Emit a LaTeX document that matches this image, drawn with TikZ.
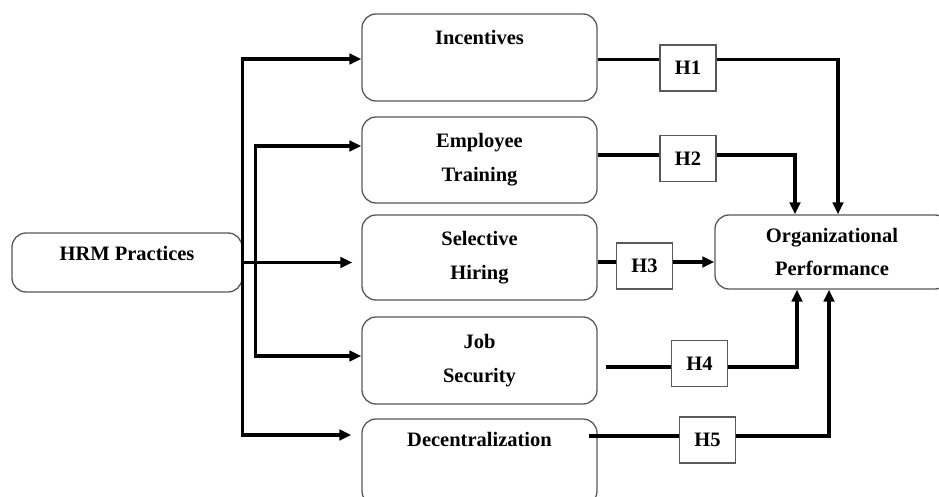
\documentclass[tikz,border=0pt]{standalone}
\usepackage{fontspec}
\setmainfont{Liberation Serif}
\usetikzlibrary{arrows.meta}
\begin{document}
\begin{tikzpicture}[x=1pt,y=-1pt,
  box/.style={draw=black!65,line width=1.3pt,rounded corners=14pt,fill=white,
    font=\bfseries\fontsize{20.5}{34}\selectfont,align=center,inner sep=0pt},
  hbox/.style={draw=black!65,line width=1.3pt,fill=white,
    font=\bfseries\fontsize{20.5}{24}\selectfont,minimum width=56pt,minimum height=46pt,inner sep=0pt},
  conn/.style={line width=3.1pt,black},
  arr/.style={conn,-{Triangle[length=12pt,width=10.5pt]}}]
\useasboundingbox (0,0) rectangle (939,497);

% boxes
\node[box,minimum width=230pt,minimum height=59pt,text height=13.5pt,text depth=18.5pt] (hrm) at (127,262.5) {HRM Practices};
\node[box,minimum width=235pt,minimum height=87pt,text height=13.5pt,text depth=39pt] (inc) at (479.5,57.5) {Incentives};
\node[box,minimum width=235pt,minimum height=86pt] (et) at (479.5,160) {Employee\\Training};
\node[box,minimum width=235pt,minimum height=85pt] (sel) at (479.5,257.5) {Selective\\Hiring};
\node[box,minimum width=235pt,minimum height=87pt] (js) at (479.5,360.5) {Job\\Security};
\node[box,minimum width=235pt,minimum height=86pt,text height=13.5pt,text depth=44pt] (dec) at (479.5,462) {Decentralization};
\node[box,minimum width=234pt,minimum height=74pt,font=\bfseries\fontsize{20.5}{33}\selectfont] (org) at (832,252) {Organizational\\Performance};

% hypothesis boxes
\node[hbox] (h1) at (688,68) {H1};
\node[hbox] (h2) at (688,158.5) {H2};
\node[hbox] (h3) at (644.5,266) {H3};
\node[hbox] (h4) at (699.5,363.5) {H4};
\node[hbox] (h5) at (707.5,440) {H5};

% left connectors
\draw[arr] (hrm.east) |- ([yshift=-1.5pt]inc.west);
\draw[arr] ([xshift=13pt]hrm.east) |- ([yshift=14pt]et.west);
\draw[arr,shorten >=9pt] (hrm.east) -- (hrm.east -| sel.west);
\draw[arr] ([xshift=13pt]hrm.east) |- ([yshift=4.5pt]js.west);
\draw[arr,shorten >=10pt] (hrm.east) |- ([yshift=27pt]dec.west);

% right connectors
\coordinate (e1) at ([yshift=-2pt]inc.east);
\coordinate (e2) at ([yshift=5pt]et.east);
\coordinate (e3) at ([yshift=-4.5pt]sel.east);
\coordinate (e4) at ([xshift=8pt,yshift=-6.5pt]js.east);
\coordinate (e5) at ([xshift=-9pt,yshift=26pt]dec.east);

\draw[conn] (e1) -- (e1 -| h1.west);
\draw[arr] (e1 -| h1.east) -| ([xshift=6pt]org.north);
\draw[conn] (e2) -- (e2 -| h2.west);
\draw[arr] (e2 -| h2.east) -| ([xshift=-37pt]org.north);
\draw[conn] (e3) -- (e3 -| h3.west);
\draw[arr] (e3 -| h3.east) -- (e3 -| org.west);
\draw[conn] (e4) -- (e4 -| h4.west);
\draw[arr] (e4 -| h4.east) -| ([xshift=-35pt]org.south);
\draw[conn] (e5) -- (e5 -| h5.west);
\draw[arr] (e5 -| h5.east) -| ([xshift=-3pt]org.south);
\end{tikzpicture}
\end{document}
